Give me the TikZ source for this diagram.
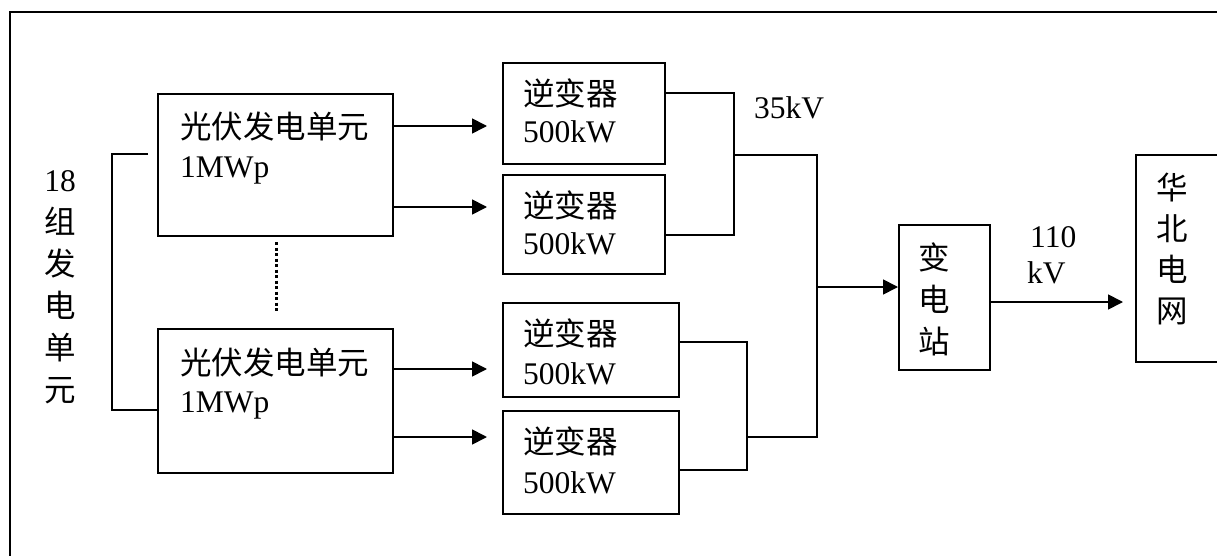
\documentclass[tikz,border=0pt]{standalone}
\usepackage{fontspec}
\setmainfont{Liberation Serif}
\newfontfamily\cjk{Noto Sans CJK SC}
\usetikzlibrary{arrows.meta}
\tikzset{
  box/.style={draw, line width=1.9pt, inner sep=0pt, anchor=north west},
  txt/.style={inner sep=0pt, anchor=west, font=\fontsize{31.5}{42}\selectfont},
  ctxt/.style={inner sep=0pt, anchor=center, align=center, font=\fontsize{31.5}{42}\selectfont},
  wire/.style={line width=1.7pt},
  arr/.style={line width=1.7pt, -{Triangle[length=15pt,width=15pt]}},
}
\begin{document}
\begin{tikzpicture}[x=1pt,y=-1pt]
\useasboundingbox (0,0) rectangle (1217,556);
\clip (0,0) rectangle (1217,556);
% outer frame
\draw[line width=2.2pt] (10,580) -- (10,12) -- (1240,12);

% boxes
\node[box, minimum width=235pt, minimum height=142pt] (pv1) at (157,93) {};
\node[box, minimum width=235pt, minimum height=144pt] (pv2) at (157,328) {};
\node[box, minimum width=162pt, minimum height=101pt] (inv1) at (502,62) {};
\node[box, minimum width=162pt, minimum height=99pt] (inv2) at (502,174) {};
\node[box, minimum width=176pt, minimum height=94pt] (inv3) at (502,302) {};
\node[box, minimum width=176pt, minimum height=103pt] (inv4) at (502,410) {};
\node[box, minimum width=91pt, minimum height=145pt] (st) at (898,224) {};
\node[box, minimum width=120pt, minimum height=207pt] (grid) at (1135,154) {};

% texts
\node[txt] (pv1a) at (180,127) {\cjk 光伏发电单元};
\node[txt] (pv1b) at (180,170) {1MWp};
\node[txt] (pv2a) at (180,363) {\cjk 光伏发电单元};
\node[txt] (pv2b) at (180,405) {1MWp};
\node[txt] (i1a) at (523,93) {\cjk 逆变器};
\node[txt] (i1b) at (523,132) {500kW};
\node[txt] (i2a) at (523,205) {\cjk 逆变器};
\node[txt] (i2b) at (523,244) {500kW};
\node[txt] (i3a) at (523,333) {\cjk 逆变器};
\node[txt] (i3b) at (523,374) {500kW};
\node[txt] (i4a) at (523,441) {\cjk 逆变器};
\node[txt] (i4b) at (523,483) {500kW};
\node[txt] (v35) at (754,108) {35kV};
\node[txt] (v110) at (1030,237) {110};
\node[txt] (vkv) at (1027,273) {kV};
\node[ctxt] (lab) at (60,287) {18\\{\cjk 组}\\{\cjk 发}\\{\cjk 电}\\{\cjk 单}\\{\cjk 元}};
\node[ctxt] (stt) at (934,299) {{\cjk 变}\\{\cjk 电}\\{\cjk 站}};
\node[ctxt, font=\fontsize{31.5}{41}\selectfont] (gridt) at (1172,249) {{\cjk 华}\\{\cjk 北}\\{\cjk 电}\\{\cjk 网}};

% coordinates
\coordinate (a1) at (487,126);
\coordinate (a2) at (487,207);
\coordinate (a3) at (487,369);
\coordinate (a4) at (487,437);
\coordinate (b1t) at (734,93);
\coordinate (b1b) at (734,235);
\coordinate (b1) at (734,155);
\coordinate (b2t) at (747,342);
\coordinate (b2b) at (747,470);
\coordinate (b2) at (747,437);
\coordinate (c1) at (817,155);
\coordinate (c2) at (817,437);
\coordinate (c3) at (817,287);
\coordinate (d1) at (1123,302);
\coordinate (e1) at (148,154);
\coordinate (e2) at (112,154);
\coordinate (e3) at (112,410);
\coordinate (f1) at (276,242);
\coordinate (f2) at (276,312);

% connectors
\draw[arr] (pv1.east|-a1) -- (a1);
\draw[arr] (pv1.east|-a2) -- (a2);
\draw[arr] (pv2.east|-a3) -- (a3);
\draw[arr] (pv2.east|-a4) -- (a4);
\draw[wire] (inv1.east|-b1t) -- (b1t) -- (b1b) -- (inv2.east|-b1b);
\draw[wire] (inv3.east|-b2t) -- (b2t) -- (b2b) -- (inv4.east|-b2b);
\draw[wire] (b1) -- (c1) -- (c2) -- (b2);
\draw[arr] (c3) -- (st.west|-c3);
\draw[arr] (st.east|-d1) -- (d1);
\draw[wire] (e1) -- (e2) -- (e3) -- (pv2.west|-e3);
\draw[line width=3pt, dash pattern=on 3pt off 2.5pt] (f1) -- (f2);
\end{tikzpicture}
\end{document}
